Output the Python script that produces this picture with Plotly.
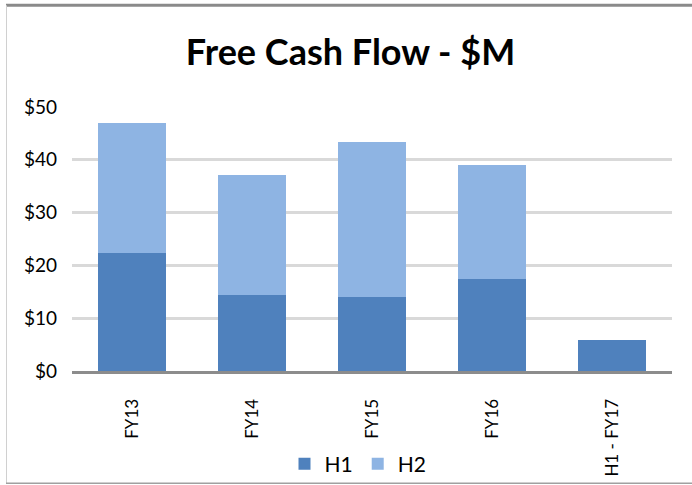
import plotly.graph_objects as go

categories = ["FY13", "FY14", "FY15", "FY16", "H1 - FY17"]
h1_values = [22.3, 14.4, 14.0, 17.4, 5.8]
h2_values = [24.7, 22.8, 29.3, 21.7, None]
y_tickvals = [0, 10, 20, 30, 40, 50]
y_ticktext = ["$0", "$10", "$20", "$30", "$40", "$50"]

W, H = 692, 485
L, R = 72, 672
T, B = 106.7, 370.7

def px_x(x):
    return (x - L) / (R - L)

def px_y(y):
    return (B - y) / (B - T)

FONT = "Lato"

fig = go.Figure()
fig.add_trace(go.Bar(x=categories, y=h1_values, name="H1", marker_color="#4F81BD",
                     marker_line_width=0))
fig.add_trace(go.Bar(x=categories, y=h2_values, name="H2", marker_color="#8EB4E3",
                     marker_line_width=0))

fig.update_layout(
    width=W, height=H,
    barmode="stack",
    bargap=0.43,
    paper_bgcolor="white",
    plot_bgcolor="white",
    margin=dict(l=L, r=W - R, t=T, b=H - B, pad=0, autoexpand=False),
    font=dict(family=FONT, size=18, color="#000000"),
    title=dict(text="<b>Free Cash Flow - $M</b>", x=350.5 / W, xanchor="center",
               y=1 - 52.5 / H, yanchor="middle", yref="container",
               font=dict(family=FONT, size=36, color="#000000")),
    legend=dict(orientation="h", x=358 / W, xref="container", xanchor="center",
                y=1 - 464 / H, yref="container", yanchor="middle",
                font=dict(family=FONT, size=21, color="#000000"),
                itemwidth=30, traceorder="normal", bgcolor="rgba(0,0,0,0)"),
    xaxis=dict(showgrid=False, showline=True, linecolor="#8C8C8C", linewidth=3,
               tickangle=-90, ticks="", ticklabelstandoff=18, automargin=False,
               tickfont=dict(family=FONT, size=17, color="#000000"),
               fixedrange=True),
    yaxis=dict(range=[0, 50], tickvals=y_tickvals, ticktext=y_ticktext,
               showgrid=True, gridcolor="#D9D9D9", gridwidth=3, automargin=False,
               zeroline=False, showline=False, ticks="", ticklabelstandoff=14,
               tickfont=dict(family=FONT, size=19, color="#000000"),
               fixedrange=True),
    shapes=[
        dict(type="line", xref="paper", yref="paper", x0=px_x(6), x1=px_x(692),
             y0=px_y(5), y1=px_y(5), line=dict(color="#8A8A8A", width=3)),
        dict(type="line", xref="paper", yref="paper", x0=px_x(6.5), x1=px_x(6.5),
             y0=px_y(5), y1=px_y(483), line=dict(color="#D0D0D0", width=1)),
        dict(type="line", xref="paper", yref="paper", x0=px_x(6), x1=px_x(692),
             y0=px_y(483), y1=px_y(483), line=dict(color="#A0A0A0", width=1.5)),
    ],
)

fig.write_html("out.html", config={"displayModeBar": False},
               post_script="document.body.style.margin='0';document.body.style.overflow='hidden';")
